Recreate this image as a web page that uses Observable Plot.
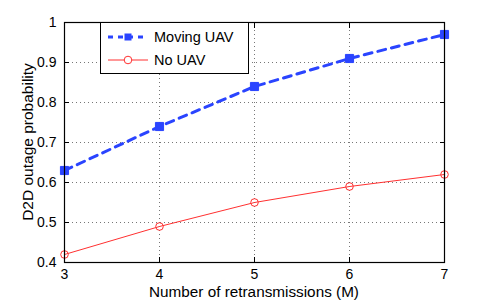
<!DOCTYPE html>
<html><head><meta charset="utf-8">
<script src="https://cdn.jsdelivr.net/npm/d3@7"></script>
<script src="https://cdn.jsdelivr.net/npm/@observablehq/plot@0.6"></script>
<style>body{margin:0;background:#fff;} #c{position:relative;}</style>
</head><body><div id="c"></div>
<script>
const retransmissions = [3, 4, 5, 6, 7];
const movingUAV = [0.63, 0.74, 0.84, 0.91, 0.97];
const noUAV = [0.42, 0.49, 0.55, 0.59, 0.62];
const xTicks = [3, 4, 5, 6, 7];
const yTicks = [0.4, 0.5, 0.6, 0.7, 0.8, 0.9, 1];
const seriesNames = ["Moving UAV", "No UAV"];
const blue = "#2a44ff", red = "#ff3030";

const moving = retransmissions.map((m, i) => ({m, p: movingUAV[i]}));
const none = retransmissions.map((m, i) => ({m, p: noUAV[i]}));
const font = "Liberation Sans, Arial, Helvetica, sans-serif";

const chart = Plot.plot({
  width: 491, height: 300,
  marginLeft: 64, marginRight: 47, marginTop: 22, marginBottom: 38,
  style: {fontFamily: font, fontSize: "14px", color: "#000", background: "#fff"},
  x: {domain: [3, 7], ticks: xTicks, label: null},
  y: {domain: [0.4, 1], ticks: yTicks, label: null},
  marks: [
    Plot.gridX(xTicks, {stroke: "#555", strokeOpacity: 0.8, strokeDasharray: "1,3"}),
    Plot.gridY(yTicks, {stroke: "#555", strokeOpacity: 0.8, strokeDasharray: "1,3"}),
    Plot.axisX(xTicks, {anchor: "bottom", tickSize: 0, tickPadding: 7, fontSize: 14, tickFormat: d => d}),
    Plot.axisY(yTicks, {anchor: "left", tickSize: 0, tickPadding: 8, fontSize: 14, tickFormat: d => d === 1 ? "1" : d.toFixed(1)}),
    Plot.axisX(xTicks, {anchor: "bottom", tickSize: -5, text: null, label: null}),
    Plot.axisX(xTicks, {anchor: "top", tickSize: -5, text: null, label: null}),
    Plot.axisY(yTicks, {anchor: "left", tickSize: -5, text: null, label: null}),
    Plot.axisY(yTicks, {anchor: "right", tickSize: -5, text: null, label: null}),
    Plot.line(none, {x: "m", y: "p", stroke: red, strokeWidth: 1}),
    Plot.dot(none, {x: "m", y: "p", r: 3.8, stroke: red, strokeWidth: 1, fill: "none"}),
    Plot.line(moving, {x: "m", y: "p", stroke: blue, strokeWidth: 3, strokeDasharray: "8,6"}),
    Plot.dot(moving, {x: "m", y: "p", symbol: "square", r: 4.6, fill: blue, stroke: blue, strokeWidth: 1}),
    Plot.frame({stroke: "#000", strokeWidth: 1.2})
  ]
});
document.getElementById("c").appendChild(chart);

// Axis titles and legend, appended to the plot's SVG
const svg = d3.select(chart);
function txt(g, x, y, s, anchor, size) {
  return g.append("text").attr("x", x).attr("y", y)
    .style("text-anchor", anchor).style("font-family", font).style("font-size", size)
    .attr("fill", "#000").text(s);
}
txt(svg, 254, 297, "Number of retransmissions (M)", "middle", "15.3px");
txt(svg, 0, 0, "D2D outage probability", "middle", "15.5px").attr("transform", "translate(33,142) rotate(-90)");

const lg = svg.append("g");
lg.append("rect").attr("x", 100.5).attr("y", 22.5).attr("width", 148).attr("height", 51)
  .attr("fill", "#fff").attr("stroke", "#000").attr("stroke-width", 1);
// Moving UAV
lg.append("line").attr("x1", 108).attr("x2", 148).attr("y1", 37).attr("y2", 37)
  .attr("stroke", blue).attr("stroke-width", 3).attr("stroke-dasharray", "5,5");
lg.append("rect").attr("x", 124.5).attr("y", 33.5).attr("width", 7).attr("height", 7).attr("fill", blue);
txt(lg, 154, 42, seriesNames[0], "start", "14.5px");
// No UAV
lg.append("line").attr("x1", 108).attr("x2", 148).attr("y1", 60).attr("y2", 60)
  .attr("stroke", red).attr("stroke-width", 1);
lg.append("circle").attr("cx", 128).attr("cy", 60).attr("r", 3.8).attr("fill", "#fff").attr("stroke", red);
txt(lg, 154, 65, seriesNames[1], "start", "14.5px");
</script></body></html>
